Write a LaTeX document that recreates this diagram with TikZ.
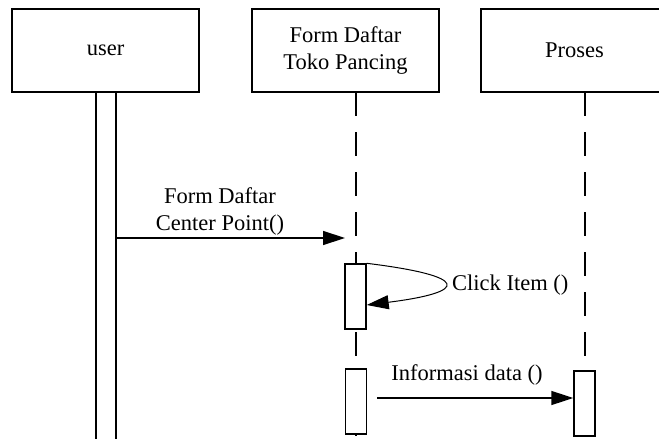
\documentclass[tikz,border=0pt]{standalone}
\usepackage{fontspec}
\setmainfont{Liberation Serif}
\usetikzlibrary{arrows.meta}
\begin{document}
\begin{tikzpicture}[x=1pt,y=-1pt,
  every node/.style={font=\fontsize{22.5}{27}\selectfont},
  actor/.style={draw,line width=1.4pt,minimum width=187pt,minimum height=83pt,align=center,inner sep=0pt},
  lifeline/.style={line width=1.4pt,dash pattern=on 24pt off 16pt},
  actbar/.style={draw,line width=1.4pt,fill=white},
  msg/.style={line width=1.4pt,-{Triangle[length=22pt,width=14pt]}},
  lbl/.style={inner sep=0pt,align=center}]
\useasboundingbox (0,0) rectangle (659,439);
% actors
\node[actor] (user) at (105.5,50.5) {user};
\node[actor] (form) at (345.5,50.5) {Form Daftar\\Toko Pancing};
\node[actor] (proses) at (574.5,50.5) {Proses};
% lifelines
\coordinate (formtop) at (356,92);
\coordinate (formbot) at (356,445);
\coordinate (prostop) at (585,92);
\coordinate (prosbot) at (585,445);
\draw[lifeline] (formtop) -- (formbot);
\draw[lifeline] (prostop) -- (prosbot);
% user activation bar
\draw[line width=1.4pt] (96,92) -- (96,445) (116,92) -- (116,445);
\coordinate (ubar) at (116,238);
% activation bars
\node[actbar,minimum width=21pt,minimum height=65pt,inner sep=0pt] (fbar1) at (355.5,296.5) {};
\node[actbar,minimum width=21pt,minimum height=65pt,inner sep=0pt] (fbar2) at (356,401.5) {};
\node[actbar,minimum width=21pt,minimum height=65pt,inner sep=0pt] (pbar) at (584.5,403.5) {};
% message 1
\coordinate (m1end) at (345,238);
\draw[msg] (ubar) -- (m1end);
\node[lbl] (m1lbl) at (220,211) {Form Daftar\\Center Point()};
% self message
\draw[line width=1pt,-{Triangle[length=22pt,width=14pt]}] (fbar1.north east) .. controls (470,276) and (470,292) .. (fbar1.east |- 0,305);
\node[lbl,anchor=west] (m2lbl) at (452,285) {Click Item ()};
% message 3
\coordinate (m3start) at (377,398);
\draw[msg] (m3start) -- (pbar.west |- m3start);
\node[lbl] (m3lbl) at (467,375) {Informasi data ()};
\end{tikzpicture}
\end{document}
